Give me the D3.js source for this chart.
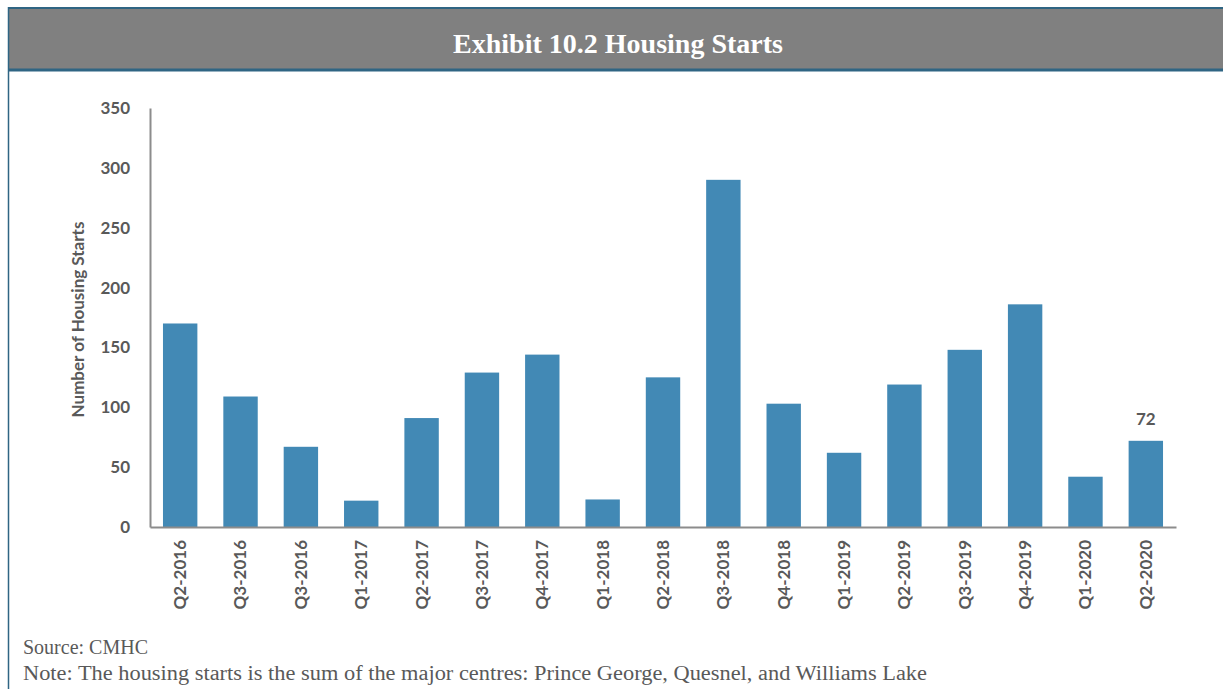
<!DOCTYPE html>
<html>
<head>
<meta charset="utf-8">
<script src="https://cdn.jsdelivr.net/npm/d3@7"></script>
<style>
  body { margin: 0; background: #fff; }
</style>
</head>
<body>
<div id="chart"></div>
<script>
const quarters = ['Q2-2016', 'Q3-2016', 'Q3-2016', 'Q1-2017', 'Q2-2017', 'Q3-2017', 'Q4-2017', 'Q1-2018',
  'Q2-2018', 'Q3-2018', 'Q4-2018', 'Q1-2019', 'Q2-2019', 'Q3-2019', 'Q4-2019', 'Q1-2020', 'Q2-2020']
const starts = [170, 109, 67, 22, 91, 129, 144, 23, 125, 290, 103, 62, 119, 148, 186, 42, 72]
const yTicks = [0, 50, 100, 150, 200, 250, 300, 350]
const labelled = ['Q2-2020']

const W = 1223
const H = 689
const margin = { top: 108, right: 47, bottom: 162, left: 150 }
const width = W - margin.left - margin.right
const height = H - margin.top - margin.bottom

const svg = d3.select('#chart').append('svg').attr('width', W).attr('height', H)

// frame + header band
const frameColor = '#2f6583'
svg.append('rect').attr('x', 9).attr('y', 8).attr('width', W - 9).attr('height', 61).attr('fill', '#808080')
svg.append('line').attr('x1', 8).attr('x2', W).attr('y1', 8).attr('y2', 8).attr('stroke', frameColor).attr('stroke-width', 2)
svg.append('line').attr('x1', 8).attr('x2', W).attr('y1', 70).attr('y2', 70).attr('stroke', frameColor).attr('stroke-width', 3)
svg.append('line').attr('x1', 8.5).attr('x2', 8.5).attr('y1', 7).attr('y2', H).attr('stroke', frameColor).attr('stroke-width', 1.5)

svg.append('text')
  .attr('x', 618).attr('y', 53)
  .attr('text-anchor', 'middle')
  .attr('fill', '#fff')
  .attr('font-family', '"Liberation Serif", "DejaVu Serif", serif')
  .attr('font-weight', 'bold')
  .attr('font-size', 28)
  .attr('textLength', 330)
  .attr('lengthAdjust', 'spacingAndGlyphs')
  .text('Exhibit 10.2 Housing Starts')

const g = svg.append('g').attr('transform', `translate(${margin.left},${margin.top})`)

const x = d3.scaleBand().domain(d3.range(quarters.length)).range([0, width]).paddingInner(0.43).paddingOuter(0.215)
const y = d3.scaleLinear().domain([0, 350]).range([height, 0])

const axisFont = 'Lato, "Open Sans", sans-serif'
const textGrey = '#595959'

// bars
g.selectAll('rect.bar')
  .data(starts)
  .join('rect')
  .attr('class', 'bar')
  .attr('x', (d, i) => x(i))
  .attr('y', (d) => y(d))
  .attr('width', x.bandwidth())
  .attr('height', (d) => height - y(d))
  .attr('fill', '#4289b5')

// data label
g.selectAll('text.val')
  .data(starts.map((v, i) => ({ v, i })).filter((d) => labelled.includes(quarters[d.i]) && d.i === quarters.length - 1))
  .join('text')
  .attr('class', 'val')
  .attr('x', (d) => x(d.i) + x.bandwidth() / 2)
  .attr('y', (d) => y(d.v) - 16)
  .attr('text-anchor', 'middle')
  .attr('fill', textGrey)
  .attr('font-family', axisFont)
  .attr('font-weight', 'bold')
  .attr('font-size', 17)
  .text((d) => d.v)

// y axis
const yAxis = g.append('g').call(d3.axisLeft(y).tickValues(yTicks).tickSize(0).tickPadding(20))
yAxis.select('.domain').attr('stroke', '#8c8c8c').attr('stroke-width', 2)
yAxis.selectAll('text')
  .attr('fill', textGrey)
  .attr('font-family', axisFont)
  .attr('font-weight', 'bold')
  .attr('font-size', 17)

// x axis
const xAxis = g.append('g')
  .attr('transform', `translate(0,${height})`)
  .call(d3.axisBottom(x).tickFormat((i) => quarters[i]).tickSize(0))
xAxis.select('.domain').attr('stroke', '#8c8c8c').attr('stroke-width', 2)
xAxis.selectAll('text')
  .attr('fill', textGrey)
  .attr('font-family', axisFont)
  .attr('font-weight', 'bold')
  .attr('font-size', 17)
  .attr('text-anchor', 'end')
  .attr('dy', '0.35em')
  .attr('transform', 'translate(0,13) rotate(-90)')
  .attr('x', 0)
  .attr('y', 0)

// y axis title
svg.append('text')
  .attr('transform', `translate(84,${margin.top + height / 2 + 2}) rotate(-90)`)
  .attr('text-anchor', 'middle')
  .attr('fill', textGrey)
  .attr('font-family', axisFont)
  .attr('font-weight', 'bold')
  .attr('font-size', 17)
  .text('Number of Housing Starts')

// footnotes
const noteFont = '"Liberation Serif", "DejaVu Serif", serif'
svg.append('text')
  .attr('x', 23).attr('y', 654)
  .attr('fill', '#595959')
  .attr('font-family', noteFont)
  .attr('font-size', 20)
  .text('Source: CMHC')
svg.append('text')
  .attr('x', 23).attr('y', 680)
  .attr('fill', '#595959')
  .attr('font-family', noteFont)
  .attr('font-size', 20)
  .attr('textLength', 904)
  .attr('lengthAdjust', 'spacingAndGlyphs')
  .text('Note: The housing starts is the sum of the major centres: Prince George, Quesnel, and Williams Lake')
</script>
</body>
</html>
